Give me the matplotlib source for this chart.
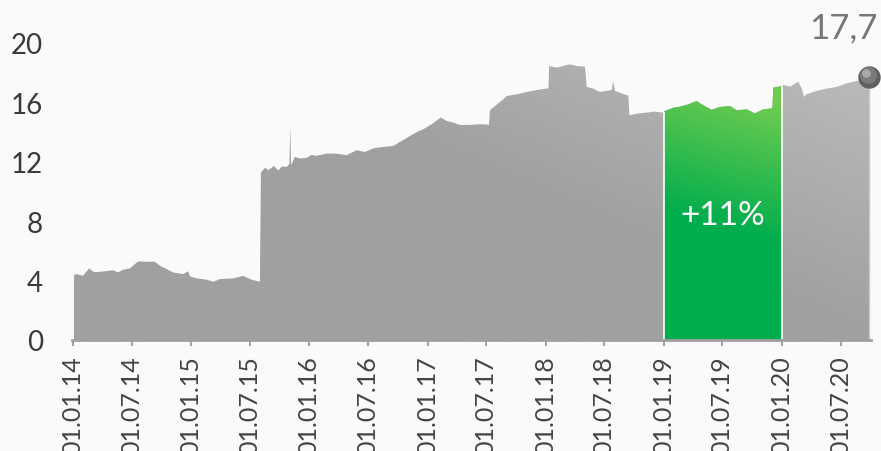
import matplotlib

matplotlib.use("Agg")
import matplotlib.dates as mdates
import matplotlib.pyplot as plt
import numpy as np
import pandas as pd
from matplotlib.colors import LinearSegmentedColormap
from matplotlib.patches import PathPatch
from matplotlib.transforms import offset_copy

plt.rcParams["font.family"] = ["Lato", "DejaVu Sans"]

dates = [
    "2014-01-04", "2014-01-13", "2014-02-01", "2014-02-20", "2014-03-05",
    "2014-03-15", "2014-04-15", "2014-05-05", "2014-05-20", "2014-06-05",
    "2014-06-26", "2014-07-21", "2014-08-17", "2014-09-11", "2014-09-27",
    "2014-10-18", "2014-11-06", "2014-12-07", "2014-12-23", "2014-12-29",
    "2015-01-18", "2015-02-18", "2015-03-11", "2015-03-31", "2015-05-12",
    "2015-06-11", "2015-07-07", "2015-08-02", "2015-08-05", "2015-08-18",
    "2015-08-28", "2015-09-14", "2015-09-28", "2015-10-08", "2015-10-24",
    "2015-11-01", "2015-11-04", "2015-11-06", "2015-11-09", "2015-11-18",
    "2015-12-04", "2015-12-24", "2016-01-09", "2016-01-24", "2016-02-24",
    "2016-03-26", "2016-04-26", "2016-05-27", "2016-06-22", "2016-07-17",
    "2016-08-17", "2016-09-17", "2016-10-13", "2016-11-08", "2016-11-29",
    "2016-12-19", "2017-01-14", "2017-02-11", "2017-03-01", "2017-03-22",
    "2017-04-11", "2017-05-12", "2017-06-12", "2017-07-08", "2017-07-10",
    "2017-07-13", "2017-07-29", "2017-08-23", "2017-09-03", "2017-10-04",
    "2017-11-04", "2017-12-04", "2018-01-04", "2018-01-10", "2018-01-12",
    "2018-02-04", "2018-03-17", "2018-04-07", "2018-05-03", "2018-05-08",
    "2018-05-28", "2018-06-18", "2018-07-09", "2018-07-24", "2018-07-29",
    "2018-08-04", "2018-08-24", "2018-09-09", "2018-09-14", "2018-09-17",
    "2018-10-10", "2018-11-10", "2018-12-05", "2018-12-29", "2019-01-01",
    "2019-01-05", "2019-01-31", "2019-02-20", "2019-03-18", "2019-04-13",
    "2019-05-04", "2019-05-29", "2019-06-24", "2019-07-25", "2019-08-15",
    "2019-09-15", "2019-10-10", "2019-11-05", "2019-12-01", "2019-12-03",
    "2019-12-06", "2019-12-27", "2020-01-01", "2020-01-06", "2020-01-27",
    "2020-02-21", "2020-03-03", "2020-03-10", "2020-03-18", "2020-04-18",
    "2020-05-19", "2020-06-19", "2020-07-20", "2020-08-20", "2020-09-20",
    "2020-09-27",
]
values = [
    4.37, 4.44, 4.32, 4.82, 4.60,
    4.57, 4.64, 4.70, 4.55, 4.73,
    4.82, 5.29, 5.27, 5.27, 5.00,
    4.77, 4.55, 4.44, 4.62, 4.28,
    4.15, 4.06, 3.92, 4.10, 4.15,
    4.32, 4.06, 3.92, 11.28, 11.60,
    11.43, 11.72, 11.41, 11.68, 11.66,
    11.84, 14.46, 11.80, 11.90, 12.33,
    12.22, 12.26, 12.46, 12.40, 12.55,
    12.55, 12.44, 12.78, 12.66, 12.90,
    13.00, 13.07, 13.40, 13.74, 14.00,
    14.19, 14.53, 14.98, 14.75, 14.64,
    14.48, 14.48, 14.53, 14.50, 14.46,
    15.47, 15.76, 16.20, 16.43, 16.54,
    16.70, 16.83, 16.93, 16.95, 18.45,
    18.34, 18.56, 18.45, 18.40, 17.04,
    16.93, 16.70, 16.77, 16.84, 17.40,
    16.77, 16.60, 16.48, 16.45, 15.13,
    15.24, 15.31, 15.38, 15.31, 15.35,
    15.42, 15.64, 15.71, 15.87, 16.09,
    15.80, 15.50, 15.69, 15.76, 15.47,
    15.53, 15.26, 15.53, 15.60, 15.62,
    17.00, 17.08, 17.10, 17.17, 17.06,
    17.40, 16.93, 16.37, 16.55, 16.77,
    16.93, 17.04, 17.28, 17.44, 17.60,
    17.70,
]
period_start = "2019-01-01"
period_end = "2020-01-01"
y_ticks = [0, 4, 8, 12, 16, 20]

BG = "#fafafa"
x = mdates.date2num(pd.to_datetime(dates))
y = np.array(values)
p0 = mdates.date2num(pd.Timestamp(period_start))
p1 = mdates.date2num(pd.Timestamp(period_end))

fig = plt.figure(figsize=(8.81, 4.52), dpi=100, facecolor=BG)
ax = fig.add_axes([72 / 881, 111 / 452, 799 / 881, 341 / 452])
ax.set_facecolor(BG)
x_lo = mdates.date2num(pd.Timestamp("2013-12-29"))
x_hi = mdates.date2num(pd.Timestamp("2020-10-03"))
y_hi = 22.96
ax.set_xlim(x_lo, x_hi)
ax.set_ylim(0, y_hi)

# gray area with a soft diagonal gradient
area = ax.fill_between(x, y, 0, facecolor="none", edgecolor="none")
clip = PathPatch(area.get_paths()[0], transform=ax.transData,
                 facecolor="none", edgecolor="none")
ax.add_patch(clip)
gx, gy = np.meshgrid(np.linspace(0, 1, 400), np.linspace(0, 1, 200))
t = np.clip((gx + gy - 1.0) / 0.8, 0, 1)
gray_cmap = LinearSegmentedColormap.from_list("g", ["#a0a0a0", "#bbbbbb"])
im = ax.imshow(t, cmap=gray_cmap, origin="lower", aspect="auto",
               extent=[x_lo, x_hi, 0, y_hi], vmin=0, vmax=1, zorder=1)
im.set_clip_path(clip)

# green highlighted period
mask = (x >= p0) & (x <= p1)
gx_data, gy_data = x[mask], y[mask]
green_area = ax.fill_between(gx_data, gy_data, 0, facecolor="none",
                             edgecolor="none")
gclip = PathPatch(green_area.get_paths()[0], transform=ax.transData,
                  facecolor="none", edgecolor="none")
ax.add_patch(gclip)
top = gy_data.max()
hx, hy = np.meshgrid(np.linspace(0, 1, 100), np.linspace(0, top, 200))
tg = np.clip((hy - 7.5) / 9.5 + (hx - 0.5) * 0.25, 0, 1)
green_cmap = LinearSegmentedColormap.from_list("gr", ["#00ad4d", "#6ecb50"])
gim = ax.imshow(tg, cmap=green_cmap, origin="lower", aspect="auto",
                extent=[p0, p1, 0, top], vmin=0, vmax=1, zorder=2)
gim.set_clip_path(gclip)

for xb in (p0, p1):
    ax.vlines(xb, 0, np.interp(xb, x, y), color="white", lw=1.2, zorder=3)

change = round((gy_data[-1] / gy_data[0] - 1) * 100)
ax.text((p0 + p1) / 2, 8.4, f"+{change}%", color="white", fontsize=24,
        ha="center", va="center", zorder=4)

# end marker
ax.vlines(x[-1], 0, y[-1], color="#c8c8c8", lw=1, zorder=3)
ax.scatter([x[-1]], [y[-1]], s=260, color="#5e5e5e", zorder=5,
           clip_on=False, linewidths=0)
ax.scatter([x[-1]], [y[-1]], s=150, color="#7a7a7a", zorder=6,
           clip_on=False, linewidths=0,
           transform=offset_copy(ax.transData, fig, x=-1, y=1.5, units="points"))
ax.scatter([x[-1]], [y[-1]], s=40, color="#a8a8a8", zorder=7,
           clip_on=False, linewidths=0,
           transform=offset_copy(ax.transData, fig, x=-2, y=3, units="points"))
fig.text(878 / 881, 1 - 28 / 452, f"{y[-1]:.1f}".replace(".", ","),
         ha="right", va="center", fontsize=25, color="#777777")

for side in ("top", "right", "left"):
    ax.spines[side].set_visible(False)
ax.spines["bottom"].set_color("#a0a0a0")
ax.spines["bottom"].set_linewidth(2)
ax.spines["bottom"].set_zorder(8)

ax.set_yticks(y_ticks)
ax.tick_params(axis="y", length=0, pad=21, labelsize=20, labelcolor="#3a3a3a")
ax.xaxis.set_major_locator(mdates.MonthLocator(bymonth=[1, 7]))
ax.xaxis.set_major_formatter(mdates.DateFormatter("%d.%m.%y"))
ax.tick_params(axis="x", length=4.5, width=1.5, color="#a0a0a0", pad=6.5,
               labelsize=18, labelcolor="#444444", labelrotation=90)

fig.savefig("out.png", dpi=100, facecolor=BG)
